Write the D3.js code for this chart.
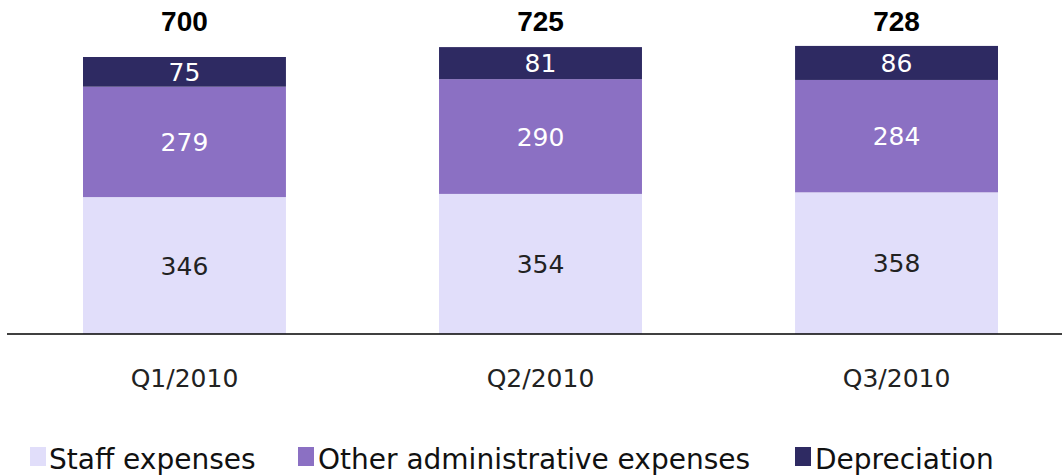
<!DOCTYPE html>
<html>
<head>
<meta charset="utf-8">
<script src="https://cdn.jsdelivr.net/npm/d3@7"></script>
<style>
  html, body { margin: 0; padding: 0; background: #fff; }
  svg { display: block; font-family: "Century Gothic", "DejaVu Sans", sans-serif; }
</style>
</head>
<body>
<svg id="chart" width="1062" height="475"></svg>
<script>
// Quarterly operating expenses, stacked by type
const quarters = ["Q1/2010", "Q2/2010", "Q3/2010"];
const staffExpenses = [346, 354, 358];
const otherAdminExpenses = [279, 290, 284];
const depreciation = [75, 81, 86];
const totals = [700, 725, 728];

const seriesNames = ["Staff expenses", "Other administrative expenses", "Depreciation"];
const seriesColors = ["#e1defa", "#8b70c3", "#2e2a62"];
const labelColors = ["#222222", "#ffffff", "#ffffff"];

const rows = quarters.map((q, i) => ({
  quarter: q,
  "Staff expenses": staffExpenses[i],
  "Other administrative expenses": otherAdminExpenses[i],
  "Depreciation": depreciation[i],
  total: totals[i]
}));

const svg = d3.select("#chart");
const baseY = 334;

const x = d3.scaleBand()
  .domain(quarters)
  .range([83, 998])
  .paddingInner(0.43)
  .paddingOuter(0);

const y = d3.scaleLinear()
  .domain([0, 700])
  .range([baseY, 57]);

const stack = d3.stack().keys(seriesNames);
const layers = stack(rows);

const g = svg.append("g");

layers.forEach((layer, li) => {
  const lg = g.append("g");
  lg.selectAll("rect")
    .data(layer)
    .join("rect")
    .attr("x", d => x(d.data.quarter))
    .attr("width", x.bandwidth())
    .attr("y", d => y(d[1]))
    .attr("height", d => y(d[0]) - y(d[1]))
    .attr("fill", seriesColors[li]);

  lg.selectAll("text")
    .data(layer)
    .join("text")
    .attr("x", d => x(d.data.quarter) + x.bandwidth() / 2)
    .attr("y", d => (y(d[0]) + y(d[1])) / 2)
    .attr("dy", "0.36em")
    .attr("text-anchor", "middle")
    .attr("font-size", 25)
    .attr("fill", labelColors[li])
    .text(d => d[1] - d[0]);
});

// Totals above each bar
g.selectAll("text.total")
  .data(rows)
  .join("text")
  .attr("class", "total")
  .attr("x", d => x(d.quarter) + x.bandwidth() / 2)
  .attr("y", 21)
  .attr("dy", "0.36em")
  .attr("text-anchor", "middle")
  .attr("font-family", "Liberation Sans, Arial, sans-serif")
  .attr("font-weight", "bold")
  .attr("font-size", 28)
  .attr("fill", "#000")
  .text(d => d.total);

// Category axis along the baseline
const axis = d3.axisBottom(x).tickSize(0).tickPadding(0);
const ax = svg.append("g").attr("transform", `translate(0,${baseY})`).call(axis);
ax.select(".domain").remove();
ax.append("line")
  .attr("x1", 7).attr("x2", 1062)
  .attr("y1", 0).attr("y2", 0)
  .attr("stroke", "#000").attr("stroke-width", 1.3);
ax.selectAll(".tick text")
  .attr("y", 44)
  .attr("dy", "0.36em")
  .attr("font-size", 25)
  .attr("font-family", "Century Gothic, DejaVu Sans, sans-serif")
  .attr("fill", "#222");

// Legend
const legendItems = [
  { name: seriesNames[0], color: seriesColors[0], sx: 30, tx: 49 },
  { name: seriesNames[1], color: seriesColors[1], sx: 298, tx: 318 },
  { name: seriesNames[2], color: seriesColors[2], sx: 795, tx: 815 }
];
const legend = svg.append("g");
const li = legend.selectAll("g").data(legendItems).join("g");
li.append("rect")
  .attr("x", d => d.sx).attr("y", 447)
  .attr("width", 16).attr("height", 19)
  .attr("fill", d => d.color);
li.append("text")
  .attr("x", d => d.tx).attr("y", 459)
  .attr("dy", "0.36em")
  .attr("font-size", 28)
  .attr("fill", "#111")
  .text(d => d.name);
</script>
</body>
</html>
